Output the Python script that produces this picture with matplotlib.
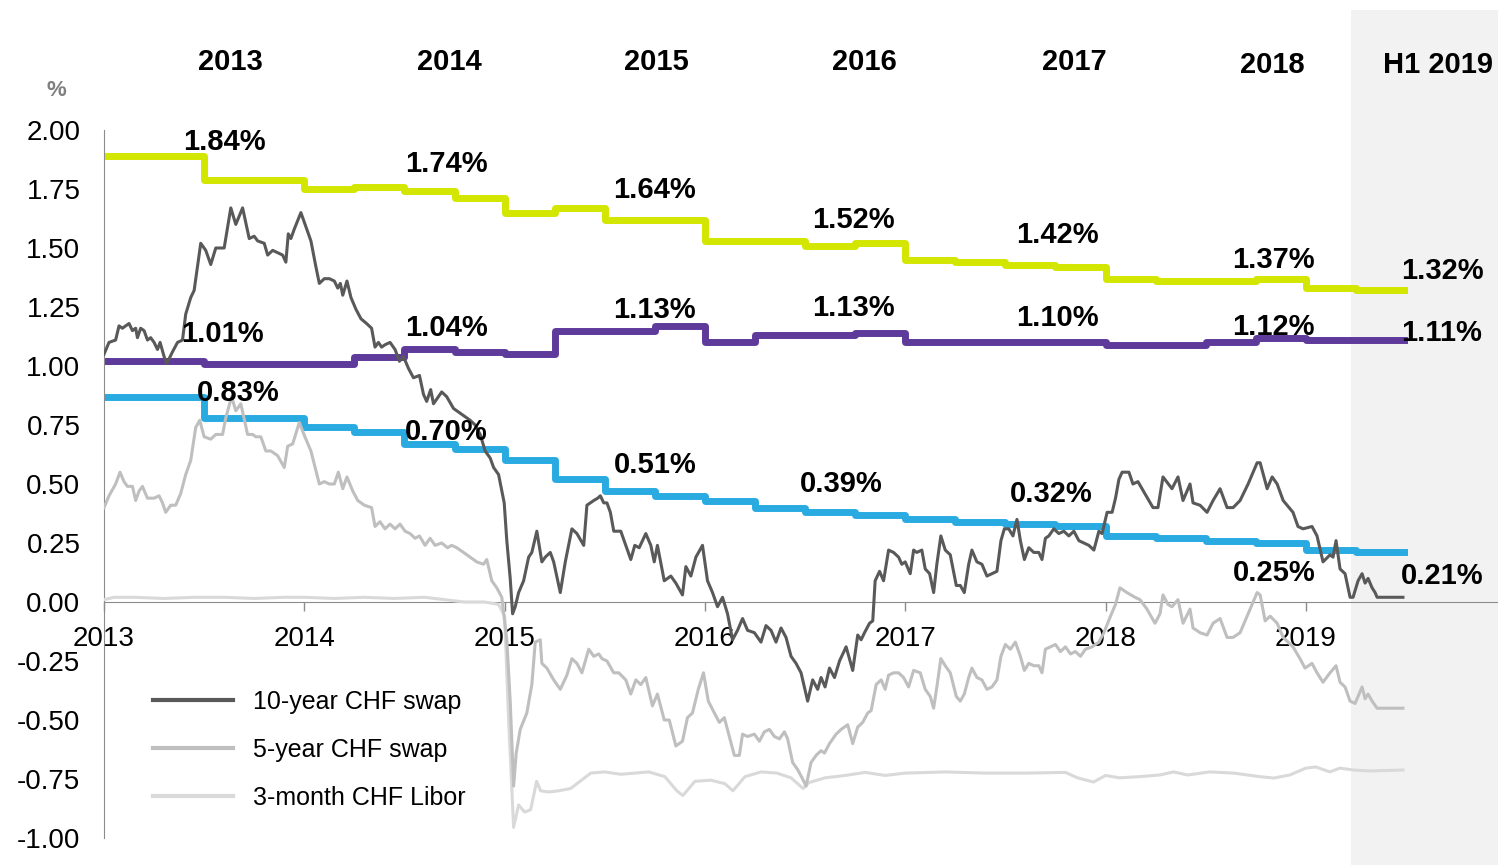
import numpy as np
import matplotlib
matplotlib.use("Agg")
import matplotlib.pyplot as plt
import matplotlib.transforms as mtransforms
from matplotlib.patches import Rectangle
from matplotlib.ticker import FormatStrFormatter

plt.rcParams['font.family'] = ['Liberation Sans', 'DejaVu Sans']
plt.rcParams['axes.unicode_minus'] = False

# quarterly step series (2013 Q1 .. 2019 Q2), in %
quarters = [2013.0, 2013.25, 2013.5, 2013.75, 2014.0, 2014.25, 2014.5, 2014.75,
            2015.0, 2015.25, 2015.5, 2015.75, 2016.0, 2016.25, 2016.5, 2016.75,
            2017.0, 2017.25, 2017.5, 2017.75, 2018.0, 2018.25, 2018.5, 2018.75,
            2019.0, 2019.25]
series_end = 2019.49
yellow = [1.89, 1.89, 1.79, 1.79, 1.75, 1.76, 1.74, 1.71, 1.65, 1.67, 1.62, 1.62, 1.53,
          1.53, 1.51, 1.52, 1.45, 1.44, 1.43, 1.42, 1.37, 1.36, 1.36, 1.37, 1.33, 1.32]
purple = [1.02, 1.02, 1.01, 1.01, 1.01, 1.04, 1.07, 1.06, 1.05, 1.15, 1.15, 1.17, 1.10,
          1.13, 1.13, 1.14, 1.10, 1.10, 1.10, 1.10, 1.09, 1.09, 1.10, 1.12, 1.11, 1.11]
blue = [0.87, 0.87, 0.78, 0.78, 0.74, 0.72, 0.67, 0.65, 0.60, 0.52, 0.47, 0.45, 0.43,
        0.40, 0.38, 0.37, 0.35, 0.34, 0.33, 0.32, 0.28, 0.27, 0.26, 0.25, 0.22, 0.21]

yellow_labels = [1.84, 1.74, 1.64, 1.52, 1.42, 1.37, 1.32]
purple_labels = [1.01, 1.04, 1.13, 1.13, 1.10, 1.12, 1.11]
blue_labels = [0.83, 0.70, 0.51, 0.39, 0.32, 0.25, 0.21]
year_headers = ['2013', '2014', '2015', '2016', '2017', '2018', 'H1 2019']

# 10-year CHF swap
t10 = [2013.000, 2013.025, 2013.058, 2013.075, 2013.092, 2013.108, 2013.125, 2013.142,
       2013.158, 2013.167, 2013.183, 2013.200, 2013.217, 2013.233, 2013.250, 2013.267,
       2013.280, 2013.300, 2013.313, 2013.342, 2013.367, 2013.392, 2013.408, 2013.433,
       2013.450, 2013.483, 2013.508, 2013.533, 2013.558, 2013.600, 2013.633, 2013.658,
       2013.692, 2013.725, 2013.750, 2013.767, 2013.800, 2013.817, 2013.842, 2013.867,
       2013.892, 2013.908, 2013.920, 2013.933, 2013.950, 2013.983, 2014.008, 2014.033,
       2014.058, 2014.075, 2014.100, 2014.125, 2014.150, 2014.167, 2014.180, 2014.192,
       2014.213, 2014.233, 2014.258, 2014.283, 2014.311, 2014.336, 2014.353, 2014.370,
       2014.386, 2014.403, 2014.428, 2014.453, 2014.475, 2014.495, 2014.520, 2014.545,
       2014.575, 2014.595, 2014.611, 2014.631, 2014.645, 2014.686, 2014.711, 2014.745,
       2014.778, 2014.828, 2014.853, 2014.878, 2014.903, 2014.928, 2014.945, 2014.970,
       2014.998, 2015.011, 2015.028, 2015.040, 2015.053, 2015.070, 2015.095, 2015.120,
       2015.136, 2015.161, 2015.186, 2015.203, 2015.228, 2015.245, 2015.278, 2015.303,
       2015.336, 2015.361, 2015.395, 2015.411, 2015.428, 2015.445, 2015.465, 2015.478,
       2015.495, 2015.511, 2015.528, 2015.545, 2015.561, 2015.580, 2015.605, 2015.630,
       2015.650, 2015.672, 2015.705, 2015.730, 2015.747, 2015.763, 2015.797, 2015.830,
       2015.855, 2015.888, 2015.905, 2015.930, 2015.955, 2015.988, 2016.013, 2016.038,
       2016.063, 2016.088, 2016.113, 2016.138, 2016.163, 2016.188, 2016.213, 2016.247,
       2016.280, 2016.305, 2016.330, 2016.355, 2016.380, 2016.405, 2016.430, 2016.455,
       2016.480, 2016.513, 2016.538, 2016.563, 2016.580, 2016.600, 2016.622, 2016.647,
       2016.672, 2016.705, 2016.738, 2016.763, 2016.780, 2016.797, 2016.822, 2016.838,
       2016.850, 2016.872, 2016.892, 2016.917, 2016.942, 2016.967, 2016.983, 2017.000,
       2017.025, 2017.042, 2017.058, 2017.083, 2017.100, 2017.122, 2017.142, 2017.158,
       2017.178, 2017.200, 2017.225, 2017.255, 2017.275, 2017.295, 2017.317, 2017.333,
       2017.358, 2017.383, 2017.408, 2017.433, 2017.458, 2017.478, 2017.495, 2017.517,
       2017.538, 2017.558, 2017.575, 2017.595, 2017.617, 2017.642, 2017.667, 2017.683,
       2017.700, 2017.717, 2017.742, 2017.767, 2017.792, 2017.817, 2017.842, 2017.867,
       2017.892, 2017.917, 2017.942, 2017.967, 2017.983, 2018.008, 2018.033, 2018.050,
       2018.067, 2018.083, 2018.117, 2018.137, 2018.162, 2018.237, 2018.262, 2018.287,
       2018.332, 2018.362, 2018.387, 2018.422, 2018.437, 2018.472, 2018.507, 2018.537,
       2018.572, 2018.607, 2018.637, 2018.672, 2018.712, 2018.757, 2018.772, 2018.807,
       2018.832, 2018.857, 2018.887, 2018.936, 2018.961, 2018.986, 2019.031, 2019.056,
       2019.086, 2019.121, 2019.136, 2019.151, 2019.171, 2019.196, 2019.221, 2019.236,
       2019.261, 2019.281, 2019.296, 2019.311, 2019.331, 2019.346, 2019.356, 2019.485]
v10 = [1.05, 1.10, 1.11, 1.17, 1.16, 1.17, 1.18, 1.15, 1.16, 1.12, 1.16, 1.15, 1.11, 1.12,
       1.10, 1.07, 1.10, 1.04, 1.01, 1.06, 1.10, 1.11, 1.22, 1.29, 1.32, 1.52, 1.49, 1.43,
       1.50, 1.50, 1.67, 1.60, 1.67, 1.54, 1.55, 1.53, 1.52, 1.47, 1.49, 1.48, 1.47, 1.44,
       1.56, 1.54, 1.58, 1.65, 1.59, 1.53, 1.42, 1.35, 1.37, 1.37, 1.36, 1.33, 1.35, 1.30,
       1.36, 1.29, 1.24, 1.20, 1.18, 1.16, 1.08, 1.10, 1.08, 1.09, 1.10, 1.07, 1.02, 1.04,
       0.99, 0.95, 0.96, 0.88, 0.85, 0.90, 0.84, 0.89, 0.87, 0.82, 0.80, 0.77, 0.75, 0.71,
       0.64, 0.61, 0.57, 0.54, 0.42, 0.26, 0.10, -0.05, -0.02, 0.04, 0.09, 0.19, 0.21, 0.30,
       0.17, 0.19, 0.21, 0.17, 0.04, 0.17, 0.31, 0.29, 0.24, 0.41, 0.42, 0.43, 0.44, 0.45,
       0.42, 0.42, 0.38, 0.30, 0.30, 0.30, 0.24, 0.18, 0.24, 0.23, 0.29, 0.24, 0.17, 0.24,
       0.09, 0.11, 0.08, 0.03, 0.15, 0.11, 0.19, 0.24, 0.09, 0.04, -0.02, 0.02, -0.05, -0.16,
       -0.12, -0.07, -0.12, -0.13, -0.17, -0.10, -0.12, -0.17, -0.11, -0.15, -0.23, -0.26,
       -0.30, -0.42, -0.33, -0.37, -0.32, -0.36, -0.28, -0.32, -0.25, -0.19, -0.29, -0.14,
       -0.16, -0.13, -0.09, -0.08, 0.09, 0.13, 0.09, 0.22, 0.21, 0.19, 0.16, 0.17, 0.12,
       0.22, 0.21, 0.22, 0.14, 0.12, 0.04, 0.16, 0.28, 0.22, 0.20, 0.07, 0.07, 0.04, 0.16,
       0.22, 0.17, 0.16, 0.11, 0.12, 0.13, 0.26, 0.31, 0.31, 0.28, 0.35, 0.26, 0.18, 0.23,
       0.21, 0.21, 0.18, 0.27, 0.28, 0.31, 0.29, 0.30, 0.28, 0.30, 0.26, 0.25, 0.24, 0.22,
       0.30, 0.29, 0.38, 0.38, 0.44, 0.52, 0.55, 0.55, 0.50, 0.51, 0.40, 0.40, 0.53, 0.48,
       0.53, 0.43, 0.50, 0.42, 0.41, 0.38, 0.43, 0.48, 0.40, 0.40, 0.43, 0.50, 0.59, 0.59,
       0.48, 0.53, 0.50, 0.43, 0.38, 0.32, 0.31, 0.32, 0.28, 0.17, 0.20, 0.19, 0.26, 0.14,
       0.12, 0.02, 0.02, 0.09, 0.12, 0.08, 0.10, 0.06, 0.04, 0.02, 0.02]

# 5-year CHF swap
t5 = [2013.000, 2013.025, 2013.058, 2013.080, 2013.100, 2013.117, 2013.142, 2013.158,
      2013.175, 2013.192, 2013.217, 2013.250, 2013.275, 2013.292, 2013.308, 2013.333,
      2013.358, 2013.383, 2013.408, 2013.433, 2013.458, 2013.478, 2013.500, 2013.533,
      2013.558, 2013.592, 2013.608, 2013.637, 2013.658, 2013.683, 2013.717, 2013.742,
      2013.758, 2013.783, 2013.808, 2013.833, 2013.867, 2013.900, 2013.917, 2013.942,
      2013.975, 2014.003, 2014.033, 2014.075, 2014.100, 2014.125, 2014.150, 2014.170,
      2014.192, 2014.213, 2014.242, 2014.267, 2014.300, 2014.336, 2014.353, 2014.378,
      2014.403, 2014.428, 2014.453, 2014.478, 2014.503, 2014.528, 2014.553, 2014.575,
      2014.603, 2014.628, 2014.653, 2014.686, 2014.715, 2014.736, 2014.761, 2014.795,
      2014.828, 2014.861, 2014.895, 2014.911, 2014.936, 2014.961, 2014.986, 2015.011,
      2015.028, 2015.045, 2015.058, 2015.078, 2015.111, 2015.136, 2015.153, 2015.178,
      2015.186, 2015.211, 2015.245, 2015.278, 2015.311, 2015.336, 2015.361, 2015.386,
      2015.420, 2015.445, 2015.470, 2015.486, 2015.511, 2015.545, 2015.570, 2015.605,
      2015.630, 2015.655, 2015.680, 2015.705, 2015.738, 2015.763, 2015.797, 2015.822,
      2015.855, 2015.888, 2015.913, 2015.938, 2015.967, 2015.993, 2016.017, 2016.047,
      2016.072, 2016.097, 2016.122, 2016.147, 2016.172, 2016.188, 2016.213, 2016.247,
      2016.272, 2016.297, 2016.322, 2016.347, 2016.372, 2016.397, 2016.413, 2016.438,
      2016.463, 2016.488, 2016.505, 2016.530, 2016.555, 2016.580, 2016.597, 2016.622,
      2016.655, 2016.680, 2016.713, 2016.738, 2016.763, 2016.788, 2016.813, 2016.830,
      2016.855, 2016.880, 2016.900, 2016.917, 2016.942, 2016.967, 2016.992, 2017.017,
      2017.042, 2017.075, 2017.100, 2017.125, 2017.142, 2017.158, 2017.178, 2017.200,
      2017.225, 2017.255, 2017.275, 2017.295, 2017.317, 2017.333, 2017.358, 2017.383,
      2017.408, 2017.433, 2017.458, 2017.478, 2017.500, 2017.525, 2017.550, 2017.575,
      2017.595, 2017.617, 2017.642, 2017.667, 2017.683, 2017.700, 2017.725, 2017.750,
      2017.775, 2017.800, 2017.825, 2017.850, 2017.875, 2017.900, 2017.933, 2017.967,
      2017.992, 2018.025, 2018.050, 2018.072, 2018.107, 2018.147, 2018.172, 2018.207,
      2018.247, 2018.272, 2018.287, 2018.312, 2018.332, 2018.362, 2018.387, 2018.422,
      2018.437, 2018.472, 2018.507, 2018.537, 2018.572, 2018.607, 2018.637, 2018.672,
      2018.712, 2018.757, 2018.772, 2018.797, 2018.822, 2018.857, 2018.887, 2018.936,
      2018.971, 2018.996, 2019.031, 2019.056, 2019.086, 2019.121, 2019.151, 2019.171,
      2019.196, 2019.221, 2019.246, 2019.261, 2019.281, 2019.296, 2019.311, 2019.331,
      2019.356, 2019.485]
v5 = [0.40, 0.45, 0.50, 0.55, 0.51, 0.49, 0.49, 0.43, 0.47, 0.49, 0.44, 0.44, 0.45, 0.42,
      0.38, 0.41, 0.41, 0.46, 0.54, 0.60, 0.74, 0.77, 0.70, 0.69, 0.71, 0.71, 0.78, 0.87,
      0.81, 0.84, 0.71, 0.71, 0.70, 0.70, 0.64, 0.64, 0.62, 0.57, 0.66, 0.67, 0.76, 0.70,
      0.64, 0.50, 0.51, 0.50, 0.50, 0.55, 0.48, 0.53, 0.47, 0.43, 0.41, 0.40, 0.32, 0.34,
      0.31, 0.33, 0.31, 0.33, 0.30, 0.29, 0.27, 0.28, 0.24, 0.27, 0.24, 0.25, 0.23, 0.24,
      0.23, 0.21, 0.19, 0.17, 0.16, 0.18, 0.09, 0.06, 0.02, -0.16, -0.42, -0.78, -0.64,
      -0.54, -0.47, -0.35, -0.17, -0.16, -0.26, -0.28, -0.33, -0.37, -0.31, -0.24, -0.26,
      -0.30, -0.20, -0.23, -0.22, -0.24, -0.25, -0.30, -0.30, -0.33, -0.39, -0.33, -0.35,
      -0.32, -0.44, -0.39, -0.50, -0.50, -0.61, -0.59, -0.49, -0.47, -0.37, -0.30, -0.42,
      -0.47, -0.51, -0.49, -0.57, -0.65, -0.65, -0.56, -0.57, -0.56, -0.59, -0.55, -0.54,
      -0.57, -0.58, -0.55, -0.58, -0.68, -0.71, -0.75, -0.78, -0.68, -0.65, -0.63, -0.64,
      -0.60, -0.56, -0.54, -0.52, -0.60, -0.53, -0.51, -0.47, -0.46, -0.35, -0.33, -0.37,
      -0.31, -0.30, -0.30, -0.32, -0.36, -0.29, -0.30, -0.37, -0.40, -0.45, -0.36, -0.24,
      -0.27, -0.30, -0.40, -0.42, -0.39, -0.32, -0.28, -0.32, -0.33, -0.37, -0.36, -0.33,
      -0.23, -0.18, -0.20, -0.17, -0.23, -0.29, -0.26, -0.27, -0.27, -0.30, -0.20, -0.19,
      -0.18, -0.21, -0.19, -0.22, -0.21, -0.23, -0.20, -0.19, -0.17, -0.13, -0.06, -0.01,
      0.06, 0.04, 0.02, 0.01, -0.03, -0.09, -0.05, 0.03, -0.01, -0.02, 0.01, -0.09, -0.03,
      -0.11, -0.13, -0.14, -0.09, -0.07, -0.15, -0.15, -0.13, -0.05, 0.04, 0.03, -0.08,
      -0.06, -0.09, -0.15, -0.19, -0.24, -0.28, -0.26, -0.30, -0.34, -0.30, -0.27, -0.34,
      -0.36, -0.42, -0.43, -0.40, -0.36, -0.41, -0.39, -0.42, -0.45, -0.45]

# 3-month CHF Libor
t3m = [2013.000, 2013.050, 2013.150, 2013.300, 2013.450, 2013.600, 2013.750, 2013.900,
       2014.000, 2014.150, 2014.300, 2014.450, 2014.600, 2014.700, 2014.800, 2014.900,
       2014.970, 2015.000, 2015.020, 2015.045, 2015.070, 2015.100, 2015.130, 2015.160,
       2015.180, 2015.220, 2015.270, 2015.330, 2015.430, 2015.500, 2015.580, 2015.720,
       2015.800, 2015.860, 2015.890, 2015.950, 2016.030, 2016.100, 2016.140, 2016.200,
       2016.280, 2016.360, 2016.430, 2016.490, 2016.520, 2016.600, 2016.700, 2016.800,
       2016.900, 2017.000, 2017.200, 2017.400, 2017.600, 2017.800, 2017.860, 2017.940,
       2018.000, 2018.070, 2018.170, 2018.270, 2018.340, 2018.410, 2018.520, 2018.640,
       2018.770, 2018.840, 2018.920, 2019.000, 2019.050, 2019.120, 2019.170, 2019.240,
       2019.320, 2019.485]
v3m = [0.01, 0.02, 0.02, 0.015, 0.02, 0.02, 0.015, 0.02, 0.02, 0.015, 0.02, 0.015, 0.02,
       0.01, 0.0, 0.0, -0.01, -0.06, -0.50, -0.955, -0.86, -0.89, -0.88, -0.76, -0.80, -0.805,
       -0.80, -0.79, -0.725, -0.72, -0.73, -0.72, -0.74, -0.80, -0.82, -0.76, -0.755, -0.77,
       -0.80, -0.74, -0.72, -0.725, -0.745, -0.79, -0.765, -0.745, -0.735, -0.722, -0.735,
       -0.725, -0.72, -0.725, -0.725, -0.722, -0.745, -0.763, -0.735, -0.745, -0.74, -0.733,
       -0.72, -0.733, -0.72, -0.725, -0.74, -0.746, -0.733, -0.704, -0.699, -0.72, -0.704,
       -0.712, -0.716, -0.712]

# label positions (data coords)
yellow_pos = [(2013.60, 1.950), (2014.71, 1.856), (2015.75, 1.746), (2016.74, 1.619),
              (2017.76, 1.556), (2018.84, 1.450), (2019.68, 1.403)]
purple_pos = [(2013.59, 1.136), (2014.71, 1.161), (2015.75, 1.238), (2016.74, 1.244),
              (2017.76, 1.204), (2018.84, 1.166), (2019.68, 1.140)]
blue_pos = [(2013.67, 0.886), (2014.71, 0.721), (2015.75, 0.581), (2016.68, 0.502),
            (2017.73, 0.458), (2018.84, 0.123), (2019.68, 0.111)]
header_px = [(230, 62), (449, 62), (656, 62), (864, 62), (1074, 62), (1272, 65), (1438, 65)]

W, H = 1498, 865
fig = plt.figure(figsize=(W / 100, H / 100), dpi=100)
ax = fig.add_axes([104 / W, 27 / H, 1394 / W, 708 / H])
ax.set_facecolor('none')
ax.set_xlim(2013, 2013 + 1394 / 200.3)
ax.set_ylim(-1, 2)

# grey H1 2019 band, runs from near the top of the figure to the bottom
trans = mtransforms.blended_transform_factory(ax.transData, fig.transFigure)
ax.add_patch(Rectangle((2019.225, 0), 2, 855 / H, transform=trans, facecolor='#f2f2f2',
                       edgecolor='none', clip_on=False, zorder=0))

qx = quarters + [series_end]
ax.step(qx, yellow + [yellow[-1]], where='post', color='#d3e600', lw=5, zorder=2)
ax.step(qx, purple + [purple[-1]], where='post', color='#5e3a9b', lw=5, zorder=2)
ax.step(qx, blue + [blue[-1]], where='post', color='#29abe2', lw=5, zorder=2)

l3, = ax.plot(t3m, v3m, color='#d9d9d9', lw=2.2, label='3-month CHF Libor', zorder=3)
l5, = ax.plot(t5, v5, color='#bfbfbf', lw=2.2, label='5-year CHF swap', zorder=3)
l10, = ax.plot(t10, v10, color='#595959', lw=2.2, label='10-year CHF swap', zorder=3)

for vals, pos in [(yellow_labels, yellow_pos), (purple_labels, purple_pos), (blue_labels, blue_pos)]:
    for v, (x, y) in zip(vals, pos):
        ax.text(x, y, f'{v:.2f}%', ha='center', va='center', fontsize=21,
                fontweight='bold', color='black', zorder=5)

for s, (px, py) in zip(year_headers, header_px):
    fig.text(px / W, 1 - py / H, s, ha='center', va='center', fontsize=21, fontweight='bold')
fig.text(56 / W, 1 - 91 / H, '%', ha='center', va='center', fontsize=16,
         fontweight='bold', color='#808080')

for side in ['top', 'right']:
    ax.spines[side].set_visible(False)
ax.spines['bottom'].set_position(('data', 0))
ax.spines['bottom'].set_color('#8c8c8c')
ax.spines['left'].set_color('#8c8c8c')
ax.spines['bottom'].set_zorder(1)

ax.set_xticks(range(2013, 2020))
ax.set_xticklabels([str(y) for y in range(2013, 2020)])
ax.set_yticks(np.arange(-1, 2.01, 0.25))
ax.yaxis.set_major_formatter(FormatStrFormatter('%.2f'))
ax.tick_params(axis='x', direction='out', length=6.5, width=1, color='#8c8c8c',
               pad=10.5, labelsize=20)
ax.tick_params(axis='y', length=0, pad=17, labelsize=20)

leg = ax.legend(handles=[l10, l5, l3], loc='upper left', bbox_to_anchor=(0.028, 0.223),
                frameon=False, fontsize=18, handlelength=3.2, handletextpad=0.8,
                labelspacing=0.96, borderaxespad=0)
for h in leg.legend_handles:
    h.set_linewidth(3)

fig.savefig('out.png', dpi=100)
